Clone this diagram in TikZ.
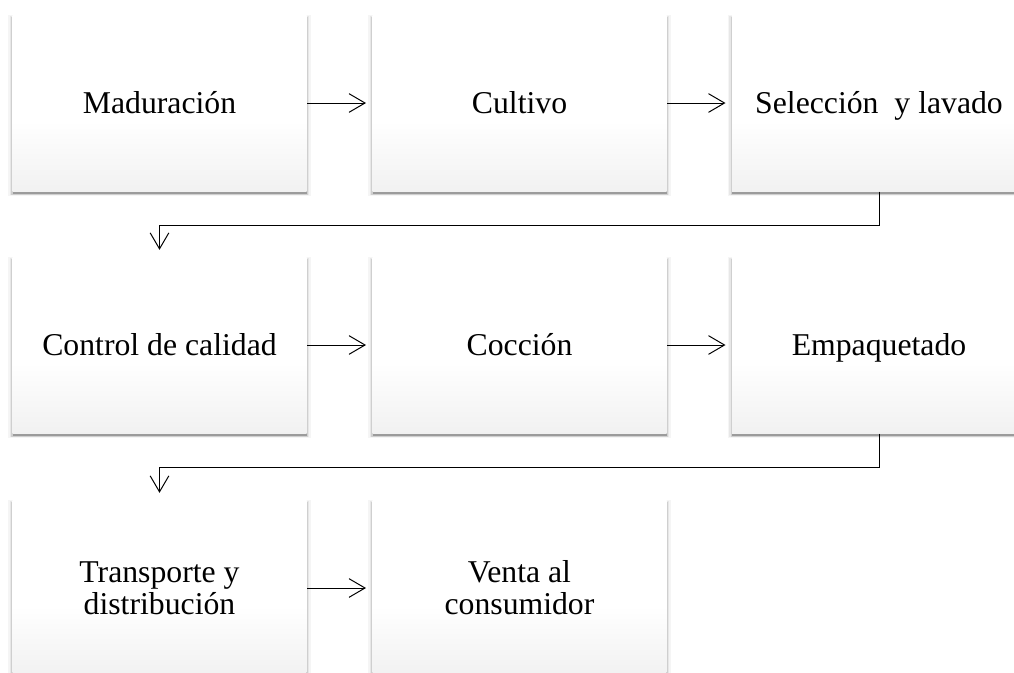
\documentclass[tikz,border=0pt]{standalone}
\usepackage{fontspec}
\setmainfont{Liberation Serif}
\usepackage{tikz}
\usetikzlibrary{arrows.meta,shadows}
\definecolor{boxgray}{HTML}{E0E0E0}
\definecolor{boxtop}{HTML}{F4F4F4}
\pgfdeclareverticalshading{boxshade}{100bp}{color(0bp)=(boxgray); color(45bp)=(white); color(96bp)=(white); color(100bp)=(boxtop)}
\tikzset{>={Straight Barb[length=12pt,width=14pt]}}

\begin{document}
\begin{tikzpicture}[x=0.75pt,y=-0.75pt,line width=0.75pt,
		proc/.style={rectangle,minimum width=220.5pt,minimum height=132pt,inner sep=0pt,align=center,
			text height=18pt,text depth=3pt,shading=boxshade,font=\fontsize{23.8pt}{24pt}\selectfont,
			drop shadow={shadow xshift=0pt,shadow yshift=-2pt,shadow scale=1.03,opacity=0.04,fill=black},
			drop shadow={shadow xshift=0pt,shadow yshift=-2pt,shadow scale=1.02,opacity=0.06,fill=black},
			drop shadow={shadow xshift=0pt,shadow yshift=-2pt,shadow scale=1.01,opacity=0.1,fill=black},
			drop shadow={shadow xshift=0pt,shadow yshift=-2.5pt,opacity=0.25,fill=black}},
		twolines/.style={text height=42pt,text depth=3pt}]
		\clip (0,0) rectangle (1014,672);
		\useasboundingbox (0,0) rectangle (1014,672);
		% fila 1
		\node[proc] (mad) at (159.5,103) {Maduración};
		\node[proc] (cul) at (519.5,103) {Cultivo};
		\node[proc] (sel) at (879,103) {Selección\ \ y lavado};
		% fila 2
		\node[proc] (con) at (159.5,345) {Control de calidad};
		\node[proc] (coc) at (519.5,345) {Cocción};
		\node[proc] (emp) at (879,345) {Empaquetado};
		% fila 3
		\node[proc,twolines] (tra) at (159.5,588) {Transporte y\\distribución};
		\node[proc,twolines] (ven) at (519.5,588) {Venta al\\consumidor};
		% flechas
		\draw[->,shorten >=4.5pt] (mad) -- (cul);
		\draw[->,shorten >=4.5pt] (cul) -- (sel);
		\draw[->,shorten >=5pt] (sel.south) -- ++(0,33.5) -| (con.north);
		\draw[->,shorten >=4.5pt] (con) -- (coc);
		\draw[->,shorten >=4.5pt] (coc) -- (emp);
		\draw[->,shorten >=5pt] (emp.south) -- ++(0,33.5) -| (tra.north);
		\draw[->,shorten >=4.5pt] (tra) -- (ven);
\end{tikzpicture}
\end{document}
